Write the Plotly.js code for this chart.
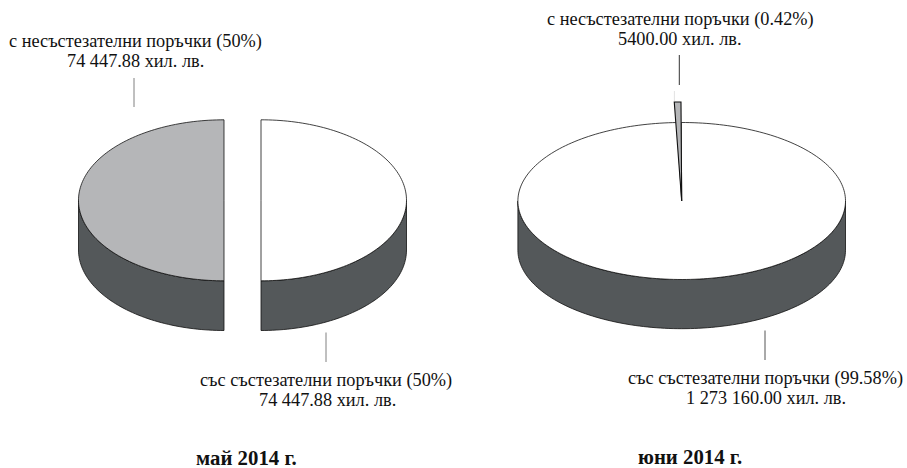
<!DOCTYPE html>
<html>
<head>
<meta charset="utf-8">
<script src="https://cdn.plot.ly/plotly-3.0.1.min.js"></script>
<style>html,body{margin:0;padding:0;background:#fff}#chart{width:907px;height:468px}</style>
</head>
<body>
<div id="chart"></div>
<script>
// Data
var categories = ["с несъстезателни поръчки", "със състезателни поръчки"];
var valuesMay = [74447.88, 74447.88];
var valuesJune = [5400.00, 1273160.00];
var percentMay = ["50%", "50%"];
var percentJune = ["0.42%", "99.58%"];
var amountMay = ["74 447.88 хил. лв.", "74 447.88 хил. лв."];
var amountJune = ["5400.00 хил. лв.", "1 273 160.00 хил. лв."];
var periods = ["май 2014 г.", "юни 2014 г."];

// Styles and layout parameters
var C_GREY = "#b5b6b8", C_WHITE = "#ffffff", C_WALL = "#54585a", C_EDGE = "#111111";
var FONT = "Liberation Serif";
var LABEL_SIZE = 18.3, TITLE_SIZE = 20.8;
var pieMay = {cx: 242.5, cy: 200.3, rx: 145.5, ry: 80.5, depth: 49.7, rotation: 180, explode: 18.5};
var pieJune = {cx: 681.7, cy: 201, rx: 163.8, ry: 78.5, depth: 49.2, rotation: -0.16};
var sliver = {rx: 254, ry: 99};

function rimPoint(cx, cy, rx, ry, deg) {
  var t = deg * Math.PI / 180;
  return [cx + rx * Math.sin(t), cy - ry * Math.cos(t)];
}
function rimArc(cx, cy, rx, ry, a, b) {
  var out = [], n = Math.max(2, Math.ceil(Math.abs(b - a) / 1.5));
  for (var i = 0; i <= n; i++) out.push(rimPoint(cx, cy, rx, ry, a + (b - a) * i / n));
  return out;
}
function polyTrace(points, fill, name, width) {
  return {
    type: "scatter", mode: "lines", name: name, showlegend: false, hoverinfo: "skip",
    x: points.map(function (q) { return q[0]; }),
    y: points.map(function (q) { return q[1]; }),
    fill: "toself", fillcolor: fill,
    line: {color: C_EDGE, width: width || 0.8, simplify: false}
  };
}
function wallTraces(cx, cy, rx, ry, d, a, b, name) {
  var s = Math.max(a, 90), e = Math.min(b, 270);
  if (e <= s) return [];
  var upper = rimArc(cx, cy, rx, ry, s, e), lower = rimArc(cx, cy + d, rx, ry, e, s);
  var pts = upper.concat(lower); pts.push(upper[0]);
  return [polyTrace(pts, C_WALL, name)];
}
function faceTrace(cx, cy, rx, ry, a, b, fill, name, width) {
  var pts = [[cx, cy]].concat(rimArc(cx, cy, rx, ry, a, b)); pts.push([cx, cy]);
  return polyTrace(pts, fill, name, width);
}
function leader(x, y0, y1, color) {
  return {type: "line", xref: "x", yref: "y", x0: x, x1: x, y0: y0, y1: y1, line: {color: color, width: 1}};
}
function label(text, x, y, bold) {
  return {
    text: bold ? "<b>" + text + "</b>" : text, x: x, y: y, xref: "x", yref: "y",
    xanchor: "center", yanchor: "middle", showarrow: false,
    font: {family: FONT, size: bold ? TITLE_SIZE : LABEL_SIZE, color: "#111111"}
  };
}

var traces = [];
// May: two halves pulled apart, sweep from the values
(function () {
  var p = pieMay, total = valuesMay[0] + valuesMay[1];
  var sw0 = 360 * valuesMay[0] / total, sw1 = 360 * valuesMay[1] / total;
  var a0 = p.rotation, b0 = a0 + sw0, a1 = b0 - 360, b1 = a1 + sw1;
  var cx0 = p.cx - p.explode, cx1 = p.cx + p.explode;
  traces = traces.concat(wallTraces(cx0, p.cy, p.rx, p.ry, p.depth, a0, b0, categories[0]));
  traces = traces.concat(wallTraces(cx1, p.cy, p.rx, p.ry, p.depth, a1, b1, categories[1]));
  traces.push(faceTrace(cx0, p.cy, p.rx, p.ry, a0, b0, C_GREY, categories[0]));
  traces.push(faceTrace(cx1, p.cy, p.rx, p.ry, a1, b1, C_WHITE, categories[1]));
})();
// June: thin slice just before the start of the large one
(function () {
  var p = pieJune, total = valuesJune[0] + valuesJune[1];
  var sw0 = 360 * valuesJune[0] / total, sw1 = 360 * valuesJune[1] / total;
  var a1 = p.rotation, b1 = a1 + sw1;
  traces = traces.concat(wallTraces(p.cx, p.cy, p.rx, p.ry, p.depth, a1, b1, categories[1]));
  traces.push(faceTrace(p.cx, p.cy, p.rx, p.ry, a1, b1, C_WHITE, categories[1]));
  traces.push(faceTrace(p.cx, p.cy, sliver.rx, sliver.ry, a1 - sw0, a1, C_GREY, categories[0], 1.1));
})();

var annotations = [
  label(categories[0] + " (" + percentMay[0] + ")", 135, 41),
  label(amountMay[0], 135, 60.5),
  label(categories[1] + " (" + percentMay[1] + ")", 326, 380.5),
  label(amountMay[1], 327, 399.5),
  label(categories[0] + " (" + percentJune[0] + ")", 680, 19.5),
  label(amountJune[0], 680, 39),
  label(categories[1] + " (" + percentJune[1] + ")", 765.5, 378.5),
  label(amountJune[1], 765.5, 397.5),
  label(periods[0], 246.5, 457, true),
  label(periods[1], 689.5, 456.5, true)
];

var shapes = [
  leader(134, 78, 107, "#808080"),
  leader(326, 332.5, 362, "#808080"),
  leader(679.3, 55, 85, "#333333"),
  leader(765, 330.5, 360, "#555555"),
  leader(674.4, 91, 101, "#e2e2e2")
];

var layout = {
  width: 907, height: 468,
  margin: {l: 0, r: 0, t: 0, b: 0},
  paper_bgcolor: "#ffffff", plot_bgcolor: "#ffffff",
  showlegend: false,
  xaxis: {range: [0, 907], visible: false, fixedrange: true},
  yaxis: {range: [468, 0], visible: false, fixedrange: true},
  annotations: annotations, shapes: shapes
};
Plotly.newPlot("chart", traces, layout, {displayModeBar: false, staticPlot: true});
</script>
</body>
</html>
